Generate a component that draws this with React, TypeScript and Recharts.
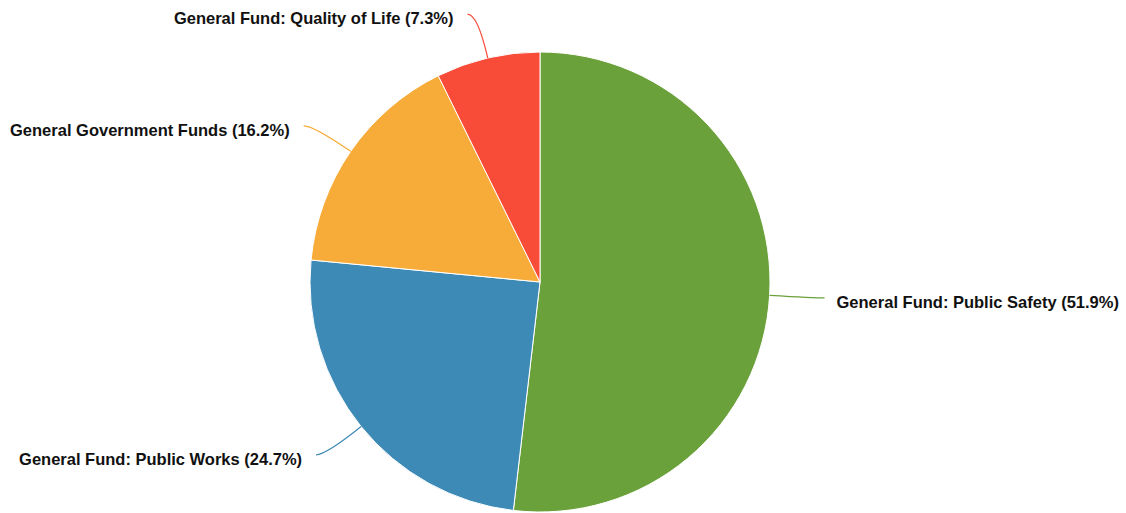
import { Cell, Pie, PieChart } from 'recharts';

const names = [
  'General Fund: Public Safety',
  'General Fund: Public Works',
  'General Government Funds',
  'General Fund: Quality of Life',
];
const shares = [51.9, 24.7, 16.2, 7.3];
const colors = ['#6aa13a', '#3d8ab6', '#f7ac39', '#f84b38'];

const data = names.map((name, i) => ({ name, value: shares[i] }));

const RAD = Math.PI / 180;

function SliceLabel(props: any) {
  const { cx, cy, midAngle, outerRadius, index, value, name } = props;
  const cos = Math.cos(-midAngle * RAD);
  const sin = Math.sin(-midAngle * RAD);
  const sx = cx + outerRadius * cos;
  const sy = cy + outerRadius * sin;
  const mx = cx + (outerRadius + 45) * cos;
  const my = cy + (outerRadius + 45) * sin;
  const right = cos >= 0;
  const ex = mx + (right ? 10 : -10);
  const ey = my;
  return (
    <g>
      <path
        d={`M${sx},${sy} Q${mx},${my} ${ex},${ey}`}
        stroke={colors[index]}
        strokeWidth={1.2}
        fill="none"
      />
      <text
        x={ex + (right ? 12 : -14)}
        y={ey + 4}
        textAnchor={right ? 'start' : 'end'}
        dominantBaseline="central"
        fill="#111"
        fontSize={16.5}
        fontWeight="bold"
        fontFamily="'Liberation Sans', Arial, sans-serif"
      >
        {`${name} (${value}%)`}
      </text>
    </g>
  );
}

export default function App() {
  return (
    <div style={{ position: 'absolute', left: 0, top: 0, width: 1126, height: 513, background: '#fff' }}>
      <PieChart width={1126} height={513} margin={{ top: 0, right: 0, bottom: 0, left: 0 }}>
        <Pie
          data={data}
          dataKey="value"
          nameKey="name"
          cx={540}
          cy={282}
          outerRadius={230}
          startAngle={90}
          endAngle={-270}
          stroke="#fff"
          strokeWidth={1}
          label={SliceLabel}
          labelLine={false}
          isAnimationActive={false}
        >
          {data.map((d, i) => (
            <Cell key={d.name} fill={colors[i]} />
          ))}
        </Pie>
      </PieChart>
    </div>
  );
}
